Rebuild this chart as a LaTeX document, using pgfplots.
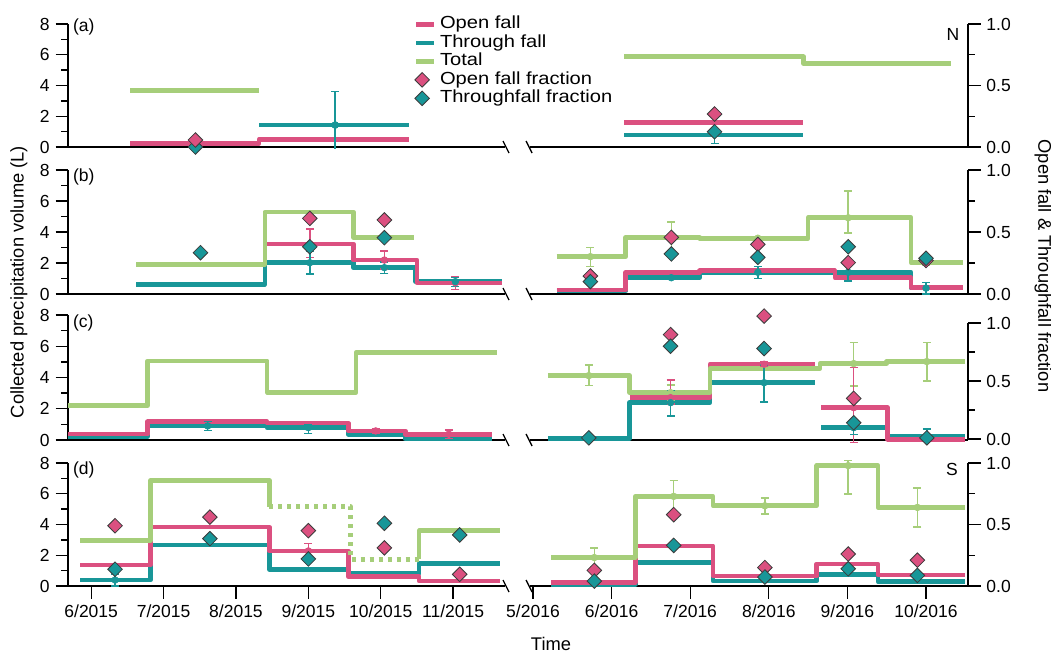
\documentclass[border=0pt]{standalone}
\usepackage{fontspec}
\setmainfont{Liberation Sans}
\newfontfamily\legfam{Liberation Sans}[FakeStretch=1.15]
\usepackage{pgfplots}
\pgfplotsset{compat=1.18}
\definecolor{pinkc}{RGB}{219,80,128}
\definecolor{tealc}{RGB}{24,150,152}
\definecolor{greenc}{RGB}{166,206,122}
\definecolor{edgec}{RGB}{60,60,60}
\newcommand\fs{\fontsize{10.5}{12.6}\selectfont}
\newcommand\fl{\fontsize{11}{13.2}\selectfont}
\newcommand\fg{\legfam\fontsize{10.5}{12.6}\selectfont}
\pgfplotsset{
 base/.style={scale only axis, clip=false, anchor=south west, ymin=0, ymax=8,
   tick align=outside, major tick length=7.5pt, minor tick length=4pt,
   every tick/.style={black, line width=0.8pt},
   axis line style={black, line width=0.9pt},
   tick label style={font=\fs}, xtick=\empty, ytick=\empty},
 lft/.style={base, width=262.2pt, xmin=5.68, xmax=11.716,
   axis x line*=bottom, axis y line*=left,
   ytick={0,2,4,6,8}, yticklabels={0,2,4,6,8}, minor ytick={1,3,5,7}},
 lftf/.style={base, width=262.2pt, xmin=5.68, xmax=11.716, ymin=0, ymax=1, hide axis},
 rgt/.style={base, width=262.8pt, xmin=4.962, xmax=10.534,
   axis x line*=bottom, axis y line=none},
 rgtf/.style={base, width=262.8pt, xmin=4.962, xmax=10.534, ymin=0, ymax=1,
   axis x line=none, axis y line*=right,
   ytick={0,0.5,1}, yticklabels={0.0,0.5,1.0}, minor ytick={0.25,0.75}},
 ln/.style={const plot, line width=2.8pt, line join=round, mark=none, #1},
 eb/.style={only marks, mark=none, #1, error bars/y dir=both, error bars/y explicit,
   error bars/error bar style={line width=0.9pt, #1},
   error bars/error mark options={rotate=90, line width=0.9pt, mark size=2.4pt, #1}},
 dm/.style={only marks, mark=square*, mark size=3.1pt,
   mark options={rotate=45, fill=#1, draw=edgec, line width=0.5pt}},
 lleg/.style={legend image code/.code={\draw[##1] (0pt,0pt) -- (10.8pt,0pt);}},
 mleg/.style={legend image code/.code={\draw[##1] plot coordinates {(3.5pt,0pt)};}},
}
\newcommand\lslash{\draw[line width=0.8pt] (rel axis cs:1,0) ++(-1.2pt,3.6pt) -- ++(3.6pt,-7.2pt);}
\newcommand\rslash{\draw[line width=0.8pt] (rel axis cs:0,0) ++(-2.4pt,3.6pt) -- ++(3.6pt,-7.2pt);}
\begin{document}
\begin{tikzpicture}
\path[use as bounding box] (0,0) rectangle (630.6pt,391.2pt);

% ================= (a) =================
\begin{axis}[lft, at={(40.8pt,303pt)}, height=73.8pt,
  legend style={at={(0.791,1.075)}, anchor=north west, draw=none, fill=none,
    inner sep=0pt, row sep=0pt,
    nodes={inner xsep=2pt, inner ysep=0.85pt, text height=7.2pt, text depth=2.2pt, font=\fg}},
  legend cell align=left]
\addlegendimage{lleg, pinkc, line width=2.8pt}
\addlegendentry{Open fall}
\addlegendimage{lleg, tealc, line width=2.8pt}
\addlegendentry{Through fall}
\addlegendimage{lleg, greenc, line width=2.8pt}
\addlegendentry{Total}
\addlegendimage{mleg, only marks, mark=square*, mark size=3.1pt, mark options={rotate=45, fill=pinkc, draw=edgec, line width=0.5pt}}
\addlegendentry{Open fall fraction}
\addlegendimage{mleg, only marks, mark=square*, mark size=3.1pt, mark options={rotate=45, fill=tealc, draw=edgec, line width=0.5pt}}
\addlegendentry{Throughfall fraction}
\addplot[ln=pinkc] coordinates {(6.54,0.24)(8.32,0.5)(10.39,0.5)};
\addplot[ln=tealc] coordinates {(8.32,1.43)(10.39,1.43)};
\addplot[ln=greenc] coordinates {(6.54,3.66)(8.32,3.66)};
\addplot[eb=tealc, error bars/y dir=plus] coordinates {(9.37,1.43) += (0,2.17) -= (0,0)};
\addplot[eb=tealc, error bars/y dir=minus, error bars/error mark=none] coordinates {(9.37,1.43) += (0,0) -= (0,1.55)};
\lslash
\node[anchor=west, font=\fs, inner sep=0pt, xshift=2.8pt, yshift=-1.5pt] at (rel axis cs:0,1) {(a)};
\end{axis}
\begin{axis}[lftf, at={(40.8pt,303pt)}, height=73.8pt]
\addplot[dm=tealc] coordinates {(7.44,0.0)};
\addplot[dm=pinkc] coordinates {(7.44,0.057)};
\end{axis}
\begin{axis}[rgt, at={(318pt,303pt)}, height=73.8pt]
\addplot[ln=tealc] coordinates {(6.16,0.78)(8.44,0.78)};
\addplot[ln=pinkc] coordinates {(6.16,1.58)(8.44,1.58)};
\addplot[ln=greenc] coordinates {(6.16,5.87)(8.44,5.44)(10.32,5.44)};
\rslash
\end{axis}
\begin{axis}[rgtf, at={(318pt,303pt)}, height=73.8pt]
\addplot[eb=tealc, error bars/y dir=minus] coordinates {(7.31,0.124) += (0,0) -= (0,0.094)};
\addplot[dm=pinkc] coordinates {(7.31,0.268)};
\addplot[dm=tealc] coordinates {(7.31,0.124)};
\node[font=\fs, anchor=east, inner sep=0pt, xshift=-5pt, yshift=-6pt] at (rel axis cs:1,1) {N};
\end{axis}

% ================= (b) =================
\begin{axis}[lft, at={(40.8pt,214.8pt)}, height=74.4pt]
\addplot[ln=tealc] coordinates {(6.62,0.63)(8.40,2.02)(9.62,1.70)(10.48,0.80)(11.67,0.80)};
\addplot[ln=pinkc] coordinates {(8.40,3.23)(9.62,2.19)(10.50,0.72)(11.67,0.72)};
\addplot[ln=greenc] coordinates {(6.62,1.92)(8.40,5.29)(9.62,3.66)(10.46,3.66)};
\addplot[eb=pinkc] coordinates {(9.02,3.23) += (0,0.96) -= (0,0.86) (10.05,2.19) += (0,0.58) -= (0,0.58) (11.03,0.72) += (0,0.38) -= (0,0.42)};
\addplot[eb=tealc] coordinates {(9.02,2.02) += (0,0.73) -= (0,0.73) (10.05,1.70) += (0,0.37) -= (0,0.37) (11.03,0.80) += (0,0.25) -= (0,0.33)};
\lslash
\node[anchor=west, font=\fs, inner sep=0pt, xshift=2.8pt, yshift=-4.2pt] at (rel axis cs:0,1) {(b)};
\end{axis}
\begin{axis}[lftf, at={(40.8pt,214.8pt)}, height=74.4pt]
\addplot[dm=pinkc] coordinates {(9.02,0.61)(10.05,0.597)};
\addplot[dm=tealc] coordinates {(7.51,0.333)(9.02,0.381)(10.05,0.454)};
\end{axis}
\begin{axis}[rgt, at={(318pt,214.8pt)}, height=74.4pt]
\addplot[ln=tealc] coordinates {(5.30,0.20)(6.18,1.05)(7.12,1.40)(9.81,0.38)(10.47,0.38)};
\addplot[ln=pinkc] coordinates {(5.30,0.26)(6.18,1.40)(7.12,1.50)(8.84,1.05)(9.81,0.43)(10.47,0.43)};
\addplot[ln=greenc] coordinates {(5.30,2.41)(6.18,3.66)(7.12,3.60)(8.50,4.92)(9.81,2.02)(10.47,2.02)};
\addplot[eb=greenc] coordinates {(5.73,2.41) += (0,0.60) -= (0,0.65) (6.76,3.66) += (0,1.0) -= (0,1.0) (7.86,3.60) += (0,0.12) -= (0,0.12) (9.01,4.92) += (0,1.74) -= (0,1.0) (10.0,2.02) += (0,0.17) -= (0,0.17)};
\addplot[eb=tealc] coordinates {(6.76,1.05) += (0,0.07) -= (0,0.07) (7.86,1.40) += (0,0.36) -= (0,0.39) (9.01,1.40) += (0,0.60) -= (0,0.56) (10.0,0.38) += (0,0.35) -= (0,0.38)};
\rslash
\end{axis}
\begin{axis}[rgtf, at={(318pt,214.8pt)}, height=74.4pt]
\addplot[dm=pinkc] coordinates {(5.73,0.145)(6.76,0.457)(7.86,0.40)(9.01,0.253)(10.0,0.27)};
\addplot[dm=tealc] coordinates {(5.73,0.10)(6.76,0.323)(7.86,0.296)(9.01,0.381)(10.0,0.288)};
\end{axis}

% ================= (c) =================
\begin{axis}[lft, at={(40.8pt,127.2pt)}, height=75pt]
\addplot[ln=tealc] coordinates {(5.68,0.21)(6.78,0.90)(8.43,0.79)(9.55,0.37)(10.34,0.06)(11.53,0.06)};
\addplot[ln=pinkc] coordinates {(5.68,0.38)(6.78,1.17)(8.43,1.08)(9.55,0.58)(10.34,0.37)(11.53,0.37)};
\addplot[ln=greenc] coordinates {(5.68,2.20)(6.78,5.06)(8.43,3.06)(9.66,5.60)(11.60,5.60)};
\addplot[eb=tealc] coordinates {(7.61,0.90) += (0,0.28) -= (0,0.28) (9.0,0.79) += (0,0.17) -= (0,0.36)};
\addplot[eb=pinkc] coordinates {(9.93,0.58) += (0,0.12) -= (0,0.12) (10.94,0.37) += (0,0.27) -= (0,0.27)};
\lslash
\node[anchor=west, font=\fs, inner sep=0pt, xshift=2.8pt, yshift=-5pt] at (rel axis cs:0,1) {(c)};
\end{axis}
\begin{axis}[rgt, at={(318pt,127.2pt)}, height=75pt]
\addplot[ln=tealc] coordinates {(5.19,0.10)(6.23,2.39)(7.25,3.67)(8.59,3.67)};
\addplot[ln=tealc] coordinates {(8.67,0.79)(9.51,0.26)(10.5,0.26)};
\addplot[ln=pinkc] coordinates {(6.23,2.71)(7.25,4.85)(8.59,4.85)};
\addplot[ln=pinkc] coordinates {(8.67,2.07)(9.51,0.05)(10.5,0.05)};
\addplot[ln=greenc] coordinates {(5.19,4.12)(6.23,3.03)(7.25,4.57)(8.65,4.89)(9.50,5.02)(10.5,5.02)};
\addplot[eb=greenc] coordinates {(5.71,4.12) += (0,0.68) -= (0,0.62) (6.75,3.03) += (0,0.50) -= (0,0.50) (9.08,4.89) += (0,1.35) -= (0,1.43) (10.01,5.02) += (0,1.22) -= (0,1.24)};
\addplot[eb=pinkc] coordinates {(6.75,2.71) += (0,1.12) -= (0,0.40) (7.94,4.85) += (0,0.15) -= (0,0.15) (9.08,2.07) += (0,2.56) -= (0,2.24)};
\addplot[eb=tealc] coordinates {(6.75,2.39) += (0,0.79) -= (0,0.85) (7.94,3.67) += (0,1.13) -= (0,1.23) (9.08,0.79) += (0,0.43) -= (0,0.43) (10.01,0.26) += (0,0.46) -= (0,0.26)};
\rslash
\end{axis}
\begin{axis}[rgtf, at={(318pt,127.8pt)}, height=69.6pt]
\addplot[dm=pinkc] coordinates {(6.75,0.90)(7.94,1.06)(9.08,0.35)};
\addplot[dm=tealc] coordinates {(5.71,0.01)(6.75,0.80)(7.94,0.78)(9.08,0.14)(10.01,0.01)};
\end{axis}

% ================= (d) =================
\begin{axis}[lft, at={(40.8pt,39.6pt)}, height=73.8pt,
  xtick={6,7,8,9,10,11}, xticklabels={6/2015,7/2015,8/2015,9/2015,10/2015,11/2015}]
\addplot[ln=tealc] coordinates {(5.85,0.39)(6.82,2.67)(8.46,1.09)(9.55,0.83)(10.53,1.48)(11.65,1.48)};
\addplot[ln=pinkc] coordinates {(5.85,1.37)(6.82,3.83)(8.46,2.28)(9.55,0.61)(10.53,0.33)(11.65,0.33)};
\addplot[ln=greenc] coordinates {(5.85,2.95)(6.82,6.87)(8.46,5.17)};
\addplot[ln=greenc, dash pattern=on 2.4pt off 3pt] coordinates {(8.46,5.17)(9.58,1.74)(10.53,1.74)};
\addplot[ln=greenc] coordinates {(10.53,1.74)(10.53,3.59)(11.65,3.59)};
\addplot[eb=tealc] coordinates {(6.33,0.39) += (0,0.39) -= (0,0.39)};
\addplot[eb=pinkc] coordinates {(9.0,2.28) += (0,0.50) -= (0,0.50)};
\lslash
\node[anchor=west, font=\fs, inner sep=0pt, xshift=2.8pt, yshift=-4.2pt] at (rel axis cs:0,1) {(d)};
\end{axis}
\begin{axis}[lftf, at={(40.8pt,39.6pt)}, height=73.8pt]
\addplot[dm=pinkc] coordinates {(6.33,0.49)(7.64,0.56)(9.0,0.45)(10.05,0.31)(11.09,0.095)};
\addplot[dm=tealc] coordinates {(6.33,0.136)(7.64,0.385)(9.0,0.22)(10.05,0.51)(11.09,0.415)};
\end{axis}
\begin{axis}[rgt, at={(318pt,39.6pt)}, height=73.8pt,
  xtick={5,6,7,8,9,10}, xticklabels={5/2016,6/2016,7/2016,8/2016,9/2016,10/2016}]
\addplot[ln=tealc] coordinates {(5.23,0.10)(6.30,1.52)(7.29,0.33)(8.61,0.76)(9.39,0.28)(10.5,0.28)};
\addplot[ln=pinkc] coordinates {(5.23,0.22)(6.30,2.61)(7.29,0.65)(8.61,1.43)(9.39,0.72)(10.5,0.72)};
\addplot[ln=greenc] coordinates {(5.23,1.85)(6.30,5.83)(7.29,5.22)(8.61,7.83)(9.39,5.11)(10.5,5.11)};
\addplot[eb=greenc] coordinates {(5.78,1.85) += (0,0.61) -= (0,0.61) (6.79,5.83) += (0,1.04) -= (0,1.0) (7.95,5.22) += (0,0.50) -= (0,0.54) (9.01,7.83) += (0,0.34) -= (0,1.85) (9.89,5.11) += (0,1.26) -= (0,1.28)};
\rslash
\end{axis}
\begin{axis}[rgtf, at={(318pt,39.6pt)}, height=73.8pt]
\addplot[dm=pinkc] coordinates {(5.78,0.127)(6.79,0.58)(7.95,0.15)(9.01,0.26)(9.89,0.21)};
\addplot[dm=tealc] coordinates {(5.78,0.04)(6.79,0.33)(7.95,0.073)(9.01,0.14)(9.89,0.086)};
\node[font=\fs, anchor=east, inner sep=0pt, xshift=-6pt, yshift=-4pt] at (rel axis cs:1,1) {S};
\end{axis}

% ================= labels =================
\node[font=\fl, rotate=90] at (11.4pt,222pt) {Collected precipitation volume (L)};
\node[font=\fl, rotate=-90] at (625.8pt,231.6pt) {Open fall \& Throughfall fraction};
\node[font=\fl] at (330.6pt,4.8pt) {Time};
\end{tikzpicture}
\end{document}
